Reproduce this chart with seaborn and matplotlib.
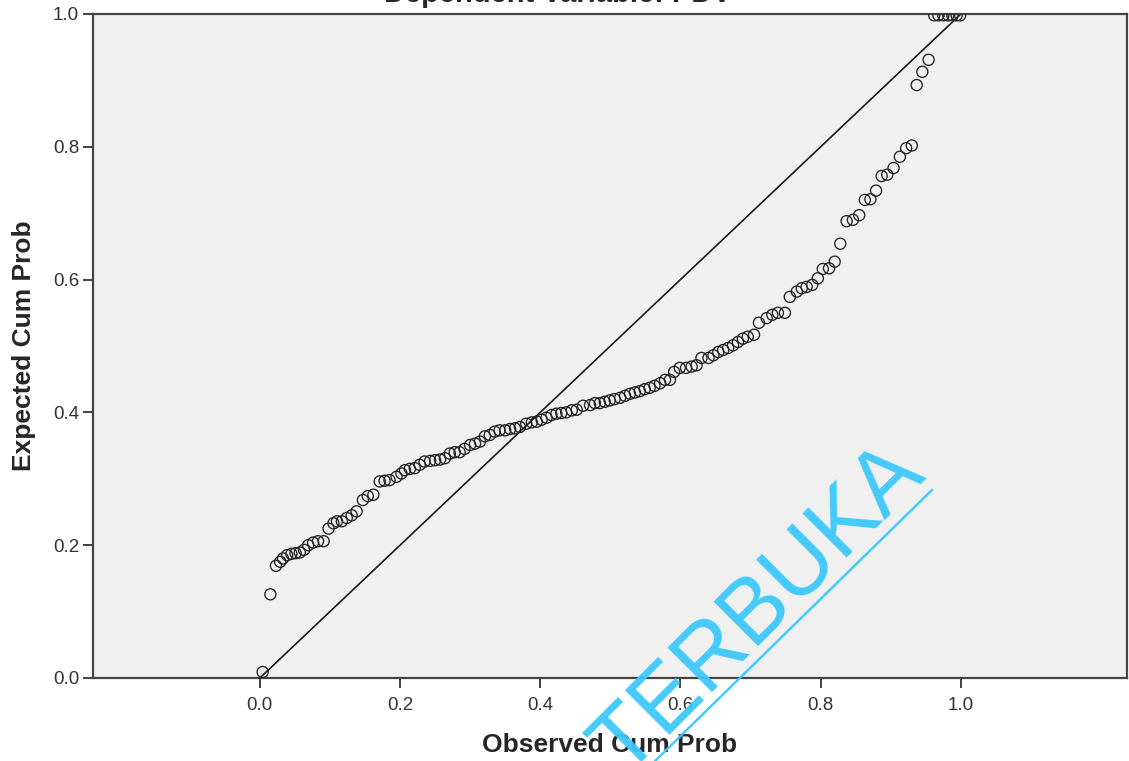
import pandas as pd
import seaborn as sns
import matplotlib.pyplot as plt
from matplotlib.lines import Line2D

# P-P plot values
observed = [
    0.004, 0.015, 0.023, 0.029, 0.033, 0.039, 0.045, 0.051, 0.057, 0.063,
    0.069, 0.076, 0.083, 0.091, 0.098, 0.105, 0.110, 0.117, 0.124, 0.131,
    0.138, 0.147, 0.154, 0.162, 0.171, 0.178, 0.185, 0.195, 0.202, 0.207,
    0.214, 0.221, 0.228, 0.235, 0.243, 0.250, 0.257, 0.264, 0.271, 0.278,
    0.285, 0.292, 0.300, 0.307, 0.314, 0.321, 0.328, 0.335, 0.342, 0.350,
    0.357, 0.364, 0.371, 0.380, 0.388, 0.395, 0.402, 0.409, 0.416, 0.423,
    0.430, 0.437, 0.445, 0.452, 0.461, 0.471, 0.478, 0.485, 0.492, 0.499,
    0.506, 0.514, 0.521, 0.528, 0.535, 0.542, 0.549, 0.556, 0.563, 0.571,
    0.578, 0.585, 0.591, 0.599, 0.608, 0.616, 0.623, 0.630, 0.640, 0.647,
    0.654, 0.661, 0.668, 0.675, 0.682, 0.689, 0.696, 0.705, 0.712, 0.723,
    0.731, 0.739, 0.749, 0.756, 0.766, 0.773, 0.780, 0.788, 0.796, 0.803,
    0.812, 0.820, 0.828, 0.837, 0.846, 0.855, 0.863, 0.871, 0.879, 0.887,
    0.895, 0.904, 0.913, 0.922, 0.930, 0.937, 0.945, 0.954, 0.962, 0.968,
    0.975, 0.982, 0.988, 0.994, 0.999,
]
expected = [
    0.009, 0.126, 0.169, 0.175, 0.180, 0.185, 0.187, 0.188, 0.189, 0.193,
    0.200, 0.204, 0.206, 0.206, 0.225, 0.233, 0.236, 0.236, 0.241, 0.245,
    0.251, 0.268, 0.274, 0.276, 0.296, 0.297, 0.298, 0.303, 0.308, 0.313,
    0.315, 0.316, 0.321, 0.326, 0.327, 0.328, 0.329, 0.331, 0.338, 0.340,
    0.340, 0.345, 0.351, 0.353, 0.356, 0.364, 0.366, 0.371, 0.373, 0.373,
    0.375, 0.376, 0.378, 0.383, 0.385, 0.386, 0.389, 0.392, 0.396, 0.398,
    0.399, 0.400, 0.403, 0.404, 0.410, 0.411, 0.414, 0.414, 0.416, 0.418,
    0.420, 0.422, 0.425, 0.428, 0.430, 0.432, 0.435, 0.437, 0.440, 0.444,
    0.449, 0.449, 0.461, 0.467, 0.467, 0.469, 0.471, 0.482, 0.482, 0.486,
    0.491, 0.494, 0.497, 0.501, 0.506, 0.511, 0.514, 0.517, 0.535, 0.542,
    0.547, 0.550, 0.550, 0.574, 0.582, 0.587, 0.589, 0.592, 0.602, 0.616,
    0.617, 0.627, 0.654, 0.688, 0.690, 0.697, 0.720, 0.721, 0.734, 0.756,
    0.758, 0.768, 0.785, 0.798, 0.802, 0.893, 0.913, 0.931, 0.998, 0.998,
    0.998, 0.998, 0.998, 0.998, 0.998,
]
ref_line = [0.0, 1.0]
tick_values = [0.0, 0.2, 0.4, 0.6, 0.8, 1.0]
tick_labels = ['0.0', '0.2', '0.4', '0.6', '0.8', '1.0']

df = pd.DataFrame({'observed': observed, 'expected': expected})

sns.set_style('white')
plt.rcParams['font.family'] = ['Liberation Sans', 'DejaVu Sans']

W, H = 1129, 761
fig = plt.figure(figsize=(W / 100, H / 100), dpi=100)
ax = fig.add_axes([93 / W, 83 / H, (1127 - 93) / W, (678 - 14) / H])
ax.set_facecolor('#f0f0f0')

ax.plot(ref_line, ref_line, color='#1a1a1a', linewidth=1.2, zorder=2)
sns.scatterplot(data=df, x='observed', y='expected', ax=ax, marker='o',
                s=64, facecolors='none', edgecolors='#222222',
                linewidth=0.95, zorder=3)

ax.set_xlim(-0.238, 1.237)
ax.set_ylim(0, 1)
ax.set_xticks(tick_values)
ax.set_xticklabels(tick_labels)
ax.set_yticks(tick_values)
ax.set_yticklabels(tick_labels)
ax.tick_params(axis='both', direction='out', length=7, width=1.3,
               color='#333333', labelsize=13.5, labelcolor='#333333',
               bottom=True, left=True)
ax.tick_params(axis='y', pad=3)
ax.tick_params(axis='x', pad=7)

for side in ['left', 'bottom', 'top', 'right']:
    ax.spines[side].set_visible(True)
    ax.spines[side].set_color('#444444')
    ax.spines[side].set_linewidth(1.6)

ax.set_xlabel('Observed Cum Prob', fontsize=19, fontweight='bold', labelpad=13)
ax.set_ylabel('Expected Cum Prob', fontsize=19, fontweight='bold', labelpad=12)

# title is cut off by the top edge of the picture
fig.text(558 / W, 1 - 2.5 / H, 'Dependent Variable: PDV', ha='center',
         va='baseline', fontsize=21, fontweight='bold')

# watermark
fig.text(759 / W, 1 - 610 / H, 'TERBUKA', rotation=45, ha='center',
         va='center', rotation_mode='anchor', fontsize=65,
         color='#3cc8fa', alpha=0.95, zorder=10)
fig.add_artist(Line2D([655 / W, 932 / W], [0, 1 - 490 / H],
                      transform=fig.transFigure, color='#3cc8fa',
                      linewidth=1.8, alpha=0.95, zorder=10))

fig.savefig('out.png', dpi=100)
